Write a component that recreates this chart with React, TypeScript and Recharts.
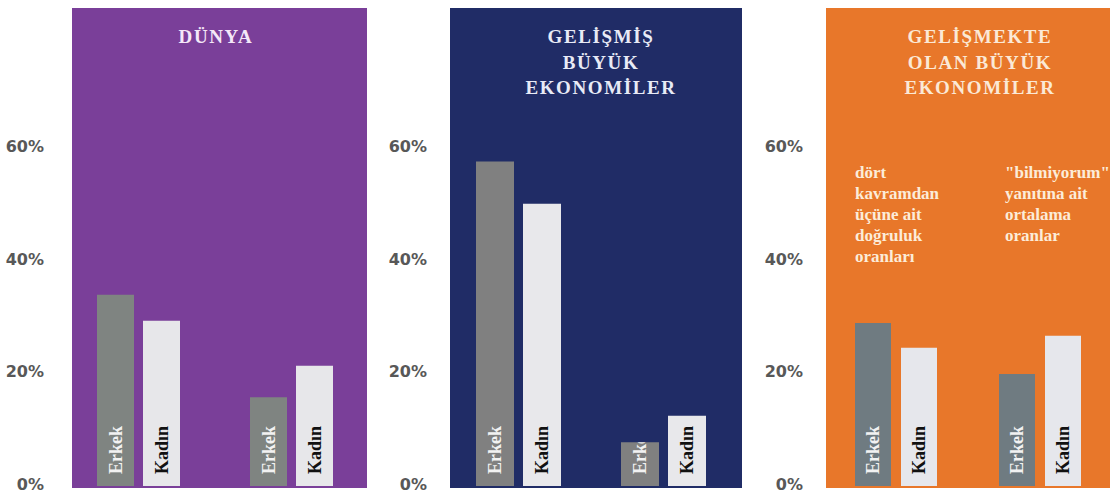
import React from "react"
import { BarChart, Bar, XAxis, YAxis, LabelList } from "recharts"

// two groups per panel: accuracy on 3 of 4 concepts, avg "don't know" answers
const groups = ["doğruluk", "bilmiyorum"]
const dunyaErkek = [34.0, 15.8]
const dunyaKadin = [29.4, 21.4]
const gelismisErkek = [57.7, 7.8]
const gelismisKadin = [50.2, 12.5]
const gelismekteErkek = [29.0, 19.9]
const gelismekteKadin = [24.6, 26.7]
const yTicks = [0, 20, 40, 60]
const seriesNames = ["Erkek", "Kadın"]

const TITLE_FONT = "'Liberation Serif', 'Times New Roman', serif"

const panels = [
  {
    id: "dunya",
    title: ["DÜNYA"],
    erkek: dunyaErkek,
    kadin: dunyaKadin,
    bg: "#7a3f99",
    titleColor: "#f4e8f8",
    gray: "#7f8481",
    light: "#e7e7ea",
    chartLeft: 0,
    axisWidth: 62,
    plotWidth: 306,
    tickMargin: 18,
    barSize: 37,
    barGap: 9,
    panelLeft: 72,
    panelRight: 367,
    titleCenter: 216,
  },
  {
    id: "gelismis",
    title: ["GELİŞMİŞ", "BÜYÜK", "EKONOMİLER"],
    erkek: gelismisErkek,
    kadin: gelismisKadin,
    bg: "#202c66",
    titleColor: "#e8ebf6",
    gray: "#808080",
    light: "#e8e8eb",
    chartLeft: 372,
    axisWidth: 74,
    plotWidth: 290,
    tickMargin: 19,
    barSize: 38,
    barGap: 9,
    panelLeft: 450,
    panelRight: 742,
    titleCenter: 601,
  },
  {
    id: "gelismekte",
    title: ["GELİŞMEKTE", "OLAN BÜYÜK", "EKONOMİLER"],
    erkek: gelismekteErkek,
    kadin: gelismekteKadin,
    bg: "#e8772a",
    titleColor: "#fbe9d6",
    gray: "#6f7b81",
    light: "#e6e7ec",
    chartLeft: 745,
    axisWidth: 79,
    plotWidth: 288,
    tickMargin: 21,
    barSize: 36,
    barGap: 10,
    panelLeft: 826,
    panelRight: 1110,
    titleCenter: 980,
  },
]

function BarText(props: any) {
  const { x, y, width, height, index, label, color, clipId } = props
  const bx = Number(x)
  const by = Number(y)
  const bw = Number(width)
  const bh = Number(height)
  const cx = bx + bw / 2
  const cy = 450
  const id = `${clipId}-${index}`
  return (
    <g>
      <defs>
        <clipPath id={id}>
          <rect x={bx} y={by} width={bw} height={bh} />
        </clipPath>
      </defs>
      <g clipPath={`url(#${id})`}>
        <text
          x={cx}
          y={cy}
          transform={`rotate(-90 ${cx} ${cy})`}
          textAnchor="middle"
          dominantBaseline="central"
          fill={color}
          fontFamily={TITLE_FONT}
          fontWeight={700}
          fontSize={18}
        >
          {label}
        </text>
      </g>
    </g>
  )
}

function Panel({ p }: { p: (typeof panels)[number] }) {
  const data = groups.map((g, i) => ({ group: g, erkek: p.erkek[i], kadin: p.kadin[i] }))
  return (
    <>
      <div
        style={{
          position: "absolute",
          left: p.panelLeft,
          top: 8,
          width: p.panelRight - p.panelLeft,
          height: 480,
          background: p.bg,
        }}
      />
      <div style={{ position: "absolute", left: p.chartLeft, top: 0 }}>
        <BarChart
          width={p.axisWidth + p.plotWidth}
          height={495}
          data={data}
          margin={{ top: 8, right: 0, bottom: 9, left: 0 }}
          barSize={p.barSize}
          barGap={p.barGap}
        >
          <XAxis dataKey="group" hide />
          <YAxis
            width={p.axisWidth}
            domain={[0, 85]}
            ticks={yTicks}
            tickFormatter={(v) => `${v}%`}
            axisLine={false}
            tickLine={false}
            tickSize={0}
            tickMargin={p.tickMargin}
            tick={{ fill: "#585858", fontSize: 16, fontWeight: 700, fontFamily: "'DejaVu Sans', sans-serif", dy: -2 }}
          />
          <Bar dataKey="erkek" fill={p.gray} isAnimationActive={false}>
            <LabelList
              dataKey="erkek"
              content={(lp: any) => (
                <BarText {...lp} label={seriesNames[0]} color="#f2f2f2" clipId={`${p.id}-e`} />
              )}
            />
          </Bar>
          <Bar dataKey="kadin" fill={p.light} isAnimationActive={false}>
            <LabelList
              dataKey="kadin"
              content={(lp: any) => (
                <BarText {...lp} label={seriesNames[1]} color="#111111" clipId={`${p.id}-k`} />
              )}
            />
          </Bar>
        </BarChart>
      </div>
      <div
        style={{
          position: "absolute",
          left: p.titleCenter - 120,
          width: 240,
          top: 24,
          textAlign: "center",
          color: p.titleColor,
          fontFamily: TITLE_FONT,
          fontWeight: 700,
          fontSize: 19,
          letterSpacing: 1.6,
          lineHeight: "25.5px",
        }}
      >
        {p.title.map((t) => (
          <div key={t}>{t}</div>
        ))}
      </div>
    </>
  )
}

const noteLeft = ["dört", "kavramdan", "üçüne ait", "doğruluk", "oranları"]
const noteRight = ["\"bilmiyorum\"", "yanıtına ait", "ortalama", "oranlar"]

export default function App() {
  const noteStyle: React.CSSProperties = {
    position: "absolute",
    top: 162,
    color: "#fcecd9",
    fontFamily: TITLE_FONT,
    fontWeight: 700,
    fontSize: 17,
    lineHeight: "21px",
    whiteSpace: "nowrap",
  }
  return (
    <div style={{ position: "absolute", left: 0, top: 0, width: 1113, height: 495, background: "#ffffff", overflow: "hidden" }}>
      {panels.map((p) => (
        <Panel key={p.id} p={p} />
      ))}
      <div style={{ ...noteStyle, left: 855 }}>
        {noteLeft.map((t) => (
          <div key={t}>{t}</div>
        ))}
      </div>
      <div style={{ ...noteStyle, left: 1005 }}>
        {noteRight.map((t) => (
          <div key={t}>{t}</div>
        ))}
      </div>
    </div>
  )
}
